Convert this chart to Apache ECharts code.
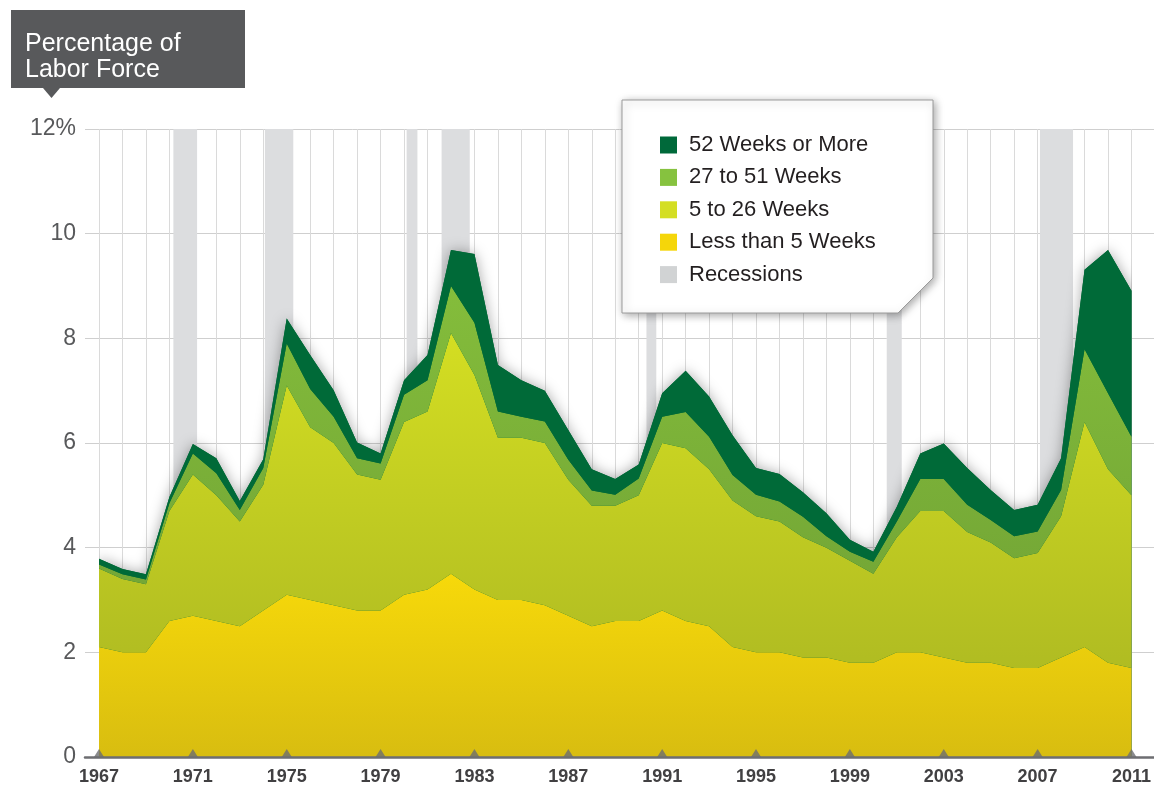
<!DOCTYPE html>
<html>
<head>
<meta charset="utf-8">
<script src="https://cdn.jsdelivr.net/npm/echarts@6/dist/echarts.min.js"></script>
<style>
html,body{margin:0;padding:0;background:#fff;}
#chart{width:1154px;height:789px;}
</style>
</head>
<body>
<div id="chart"></div>
<script>
// ---- data ----
const years = [1967,1968,1969,1970,1971,1972,1973,1974,1975,1976,1977,1978,1979,1980,1981,1982,1983,1984,1985,1986,1987,1988,1989,1990,1991,1992,1993,1994,1995,1996,1997,1998,1999,2000,2001,2002,2003,2004,2005,2006,2007,2008,2009,2010,2011];
const lessThan5 = [2.1,2.0,2.0,2.6,2.7,2.6,2.5,2.8,3.1,3.0,2.9,2.8,2.8,3.1,3.2,3.5,3.2,3.0,3.0,2.9,2.7,2.5,2.6,2.6,2.8,2.6,2.5,2.1,2.0,2.0,1.9,1.9,1.8,1.8,2.0,2.0,1.9,1.8,1.8,1.7,1.7,1.9,2.1,1.8,1.7];
const weeks5to26 = [1.5,1.4,1.3,2.1,2.7,2.4,2.0,2.4,4.0,3.3,3.1,2.6,2.5,3.3,3.4,4.6,4.1,3.1,3.1,3.1,2.6,2.3,2.2,2.4,3.2,3.3,3.0,2.8,2.6,2.5,2.3,2.1,1.95,1.7,2.2,2.7,2.8,2.5,2.3,2.1,2.2,2.7,4.3,3.7,3.3];
const weeks27to51 = [0.08,0.09,0.09,0.15,0.4,0.42,0.22,0.32,0.8,0.73,0.5,0.31,0.31,0.52,0.6,0.9,1.0,0.5,0.4,0.41,0.38,0.29,0.21,0.32,0.5,0.69,0.62,0.49,0.41,0.38,0.39,0.22,0.17,0.23,0.3,0.61,0.61,0.52,0.43,0.42,0.41,0.5,1.39,1.45,1.12];
const weeks52plus = [0.11,0.10,0.10,0.12,0.18,0.29,0.17,0.17,0.48,0.65,0.51,0.30,0.19,0.28,0.48,0.69,1.31,0.89,0.70,0.59,0.57,0.41,0.30,0.27,0.45,0.79,0.77,0.76,0.51,0.53,0.47,0.44,0.23,0.19,0.28,0.49,0.68,0.70,0.57,0.50,0.51,0.61,1.52,2.74,2.79];
const recessionStart = [1970.17,1974.07,1980.11,1981.6,1990.33,2000.57,2007.1];
const recessionEnd   = [1971.18,1975.28,1980.57,1982.8,1990.75,2001.21,2008.51];
const labelYears = [1967,1971,1975,1979,1983,1987,1991,1995,1999,2003,2007,2011];

// ---- chart ----
const chart = echarts.init(document.getElementById('chart'));
const total = years.map((y,i)=>lessThan5[i]+weeks5to26[i]+weeks27to51[i]+weeks52plus[i]);
const grad = (a,b)=>new echarts.graphic.LinearGradient(0,0,0,1,[{offset:0,color:a},{offset:1,color:b}]);
const FONT = "'Liberation Sans', Arial, sans-serif";

const option = {
  animation:false,
  grid:[
    {left:85,right:0,top:129,bottom:32},
    {left:99,right:17,top:129,bottom:32}
  ],
  xAxis:[
    {gridIndex:0,type:'value',min:0,max:1,axisLabel:{show:false},axisTick:{show:false},splitLine:{show:false},
     axisLine:{show:true,lineStyle:{color:'#6d6e71',width:2.5}},z:8},
    {gridIndex:1,type:'value',min:1967,max:2011,interval:1,
     axisLine:{show:false},axisTick:{show:false},
     splitLine:{show:true,lineStyle:{color:'#dadada',width:1}},
     axisLabel:{show:true,margin:11,color:'#414042',fontWeight:'bold',fontSize:18,
       fontFamily:"'Liberation Sans Narrow','Liberation Sans',Arial,sans-serif",
       showMinLabel:true,showMaxLabel:true,
       formatter:v=>labelYears.indexOf(v)>=0?String(v):''}},
    {gridIndex:1,type:'category',data:years,boundaryGap:false,show:false}
  ],
  yAxis:[
    {gridIndex:0,type:'value',min:0,max:12,interval:2,
     axisLine:{show:false},axisTick:{show:false},
     splitLine:{show:true,lineStyle:{color:'#cfcfcf',width:1}},
     axisLabel:{margin:9,color:'#58595b',fontSize:23,fontFamily:FONT,
       formatter:v=>v===12?'12%':String(v)}},
    {gridIndex:1,type:'value',min:0,max:12,interval:2,show:false,splitLine:{show:false}}
  ],
  legend:{
    data:['52 Weeks or More','27 to 51 Weeks','5 to 26 Weeks','Less than 5 Weeks','Recessions'],
    orient:'vertical',left:660,top:134,padding:0,itemWidth:17,itemHeight:17,itemGap:10.4,
    icon:'rect',selectedMode:false,z:30,
    textStyle:{fontSize:22,color:'#231f20',fontFamily:FONT,padding:[0,0,0,7]}
  },
  graphic:[
    {type:'polygon',z:20,shape:{points:[[622,100],[933,100],[933,278],[898,313],[622,313]]},
     style:{fill:'#ffffff',stroke:'#9a9a9a',lineWidth:1,shadowBlur:8,shadowColor:'rgba(0,0,0,0.35)',shadowOffsetX:2,shadowOffsetY:2}},
    {type:'rect',z:20,shape:{x:11,y:10,width:234,height:78},style:{fill:'#58595b'}},
    {type:'polygon',z:20,shape:{points:[[43,88],[60,88],[51.5,98]]},style:{fill:'#58595b'}},
    {type:'text',z:21,x:25,y:31,style:{text:'Percentage of\nLabor Force',fill:'#ffffff',font:"25px 'Liberation Sans', Arial, sans-serif",lineHeight:26,verticalAlign:'top'}}
  ],
  series:[
    {name:'Recessions',type:'line',xAxisIndex:1,yAxisIndex:1,data:[],
     itemStyle:{color:'#d1d3d4'},lineStyle:{color:'#d1d3d4'},
     markArea:{silent:true,itemStyle:{color:'#dcdddf'},
       data:recessionStart.map((s,i)=>[{xAxis:s},{xAxis:recessionEnd[i]}])}},
    {name:'shadow',type:'line',xAxisIndex:2,yAxisIndex:1,data:total,symbol:'none',silent:true,
     lineStyle:{width:0},areaStyle:{color:'#006a38',opacity:1,shadowBlur:14,shadowColor:'rgba(0,0,0,0.35)'}},
    {name:'Less than 5 Weeks',type:'line',stack:'t',xAxisIndex:2,yAxisIndex:1,data:lessThan5,symbol:'none',
     itemStyle:{color:'#f5d60a'},lineStyle:{width:0},areaStyle:{opacity:1,color:grad('#f7d90a','#d8bd10')}},
    {name:'5 to 26 Weeks',type:'line',stack:'t',xAxisIndex:2,yAxisIndex:1,data:weeks5to26,symbol:'none',
     itemStyle:{color:'#d4de23'},lineStyle:{width:0},areaStyle:{opacity:1,color:grad('#d4de22','#b0bc22')}},
    {name:'27 to 51 Weeks',type:'line',stack:'t',xAxisIndex:2,yAxisIndex:1,data:weeks27to51,symbol:'none',
     itemStyle:{color:'#86c23f'},lineStyle:{width:0},areaStyle:{opacity:1,color:grad('#84bd3b','#74a736')}},
    {name:'52 Weeks or More',type:'line',stack:'t',xAxisIndex:2,yAxisIndex:1,data:weeks52plus,symbol:'none',
     itemStyle:{color:'#00693a'},lineStyle:{width:0},areaStyle:{opacity:1,color:'#006a38'}},
    {name:'ticks',type:'scatter',xAxisIndex:1,yAxisIndex:1,data:labelYears.map(y=>[y,0]),z:9,clip:false,
     symbol:'triangle',symbolSize:[10,8],symbolOffset:[0,-4],itemStyle:{color:'#6d6e71'},silent:true}
  ]
};
chart.setOption(option);
</script>
</body>
</html>
